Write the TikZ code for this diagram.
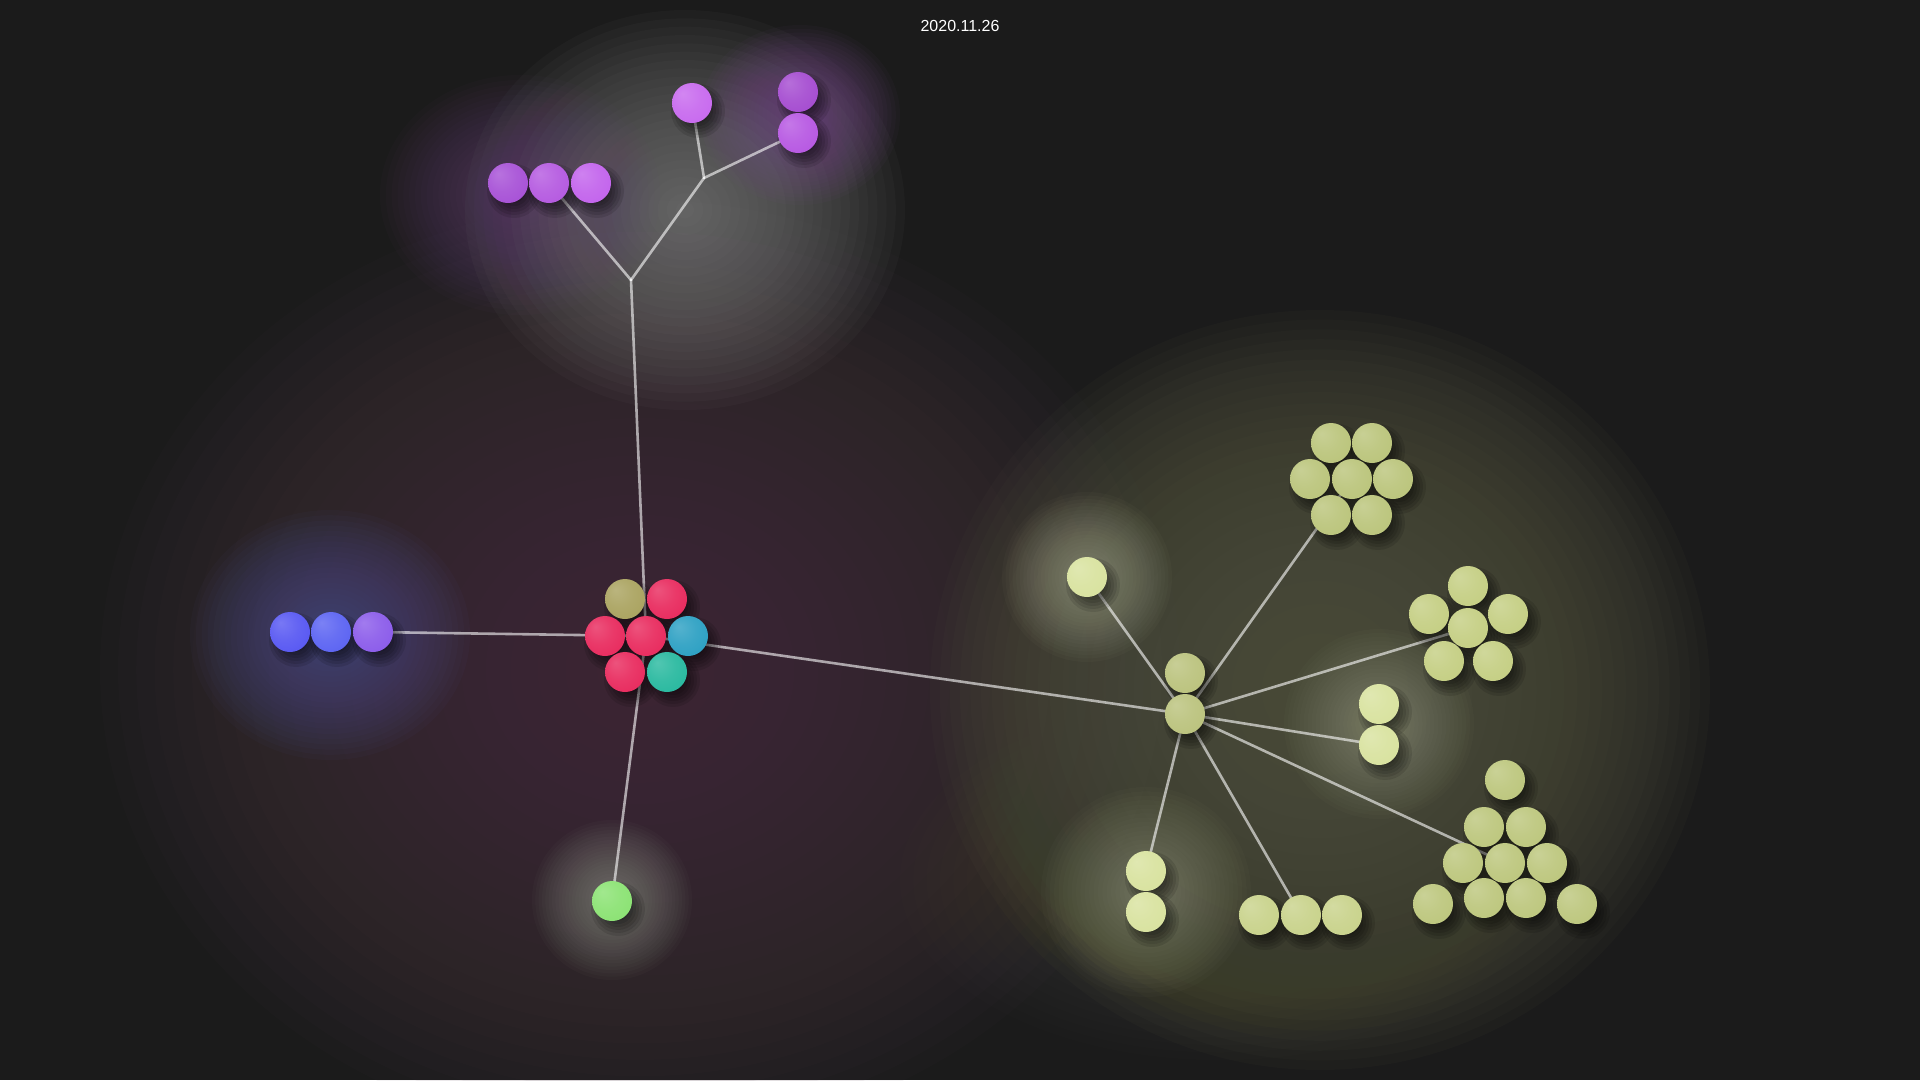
\documentclass[tikz,border=0pt]{standalone}
\usepackage{fontspec}
\setmainfont{Liberation Sans}
\pgfdeclarelayer{glowlayer}
\pgfdeclarelayer{edgelayer}
\pgfdeclarelayer{shadowlayer}
\pgfsetlayers{glowlayer,edgelayer,shadowlayer,main}

\colorlet{orbcol}{red}
\pgfdeclareradialshading[orbcol]{orbshade}{\pgfpoint{-12bp}{12bp}}{color(0bp)=(orbcol!80!white); color(18bp)=(orbcol!92!white); color(36bp)=(orbcol); color(46bp)=(orbcol!95!black); color(50bp)=(orbcol!88!black)}

\definecolor{bgc}{HTML}{1B1B1B}
\definecolor{pA}{HTML}{A64FD6}
\definecolor{pB}{HTML}{B458E0}
\definecolor{pC}{HTML}{C262EC}
\definecolor{pD}{HTML}{C768EE}
\definecolor{pE}{HTML}{A44AD0}
\definecolor{pF}{HTML}{B656E2}
\definecolor{oliveC}{HTML}{A9A25E}
\definecolor{redC}{HTML}{E8285C}
\definecolor{cyanC}{HTML}{2A9FC2}
\definecolor{tealC}{HTML}{26B89E}
\definecolor{bA}{HTML}{5656F2}
\definecolor{bB}{HTML}{5A62F2}
\definecolor{bC}{HTML}{8A5AEA}
\definecolor{greenC}{HTML}{8AE272}
\definecolor{hexC}{HTML}{BAC47A}
\definecolor{flowC}{HTML}{C4CE82}
\definecolor{triC}{HTML}{BCC67C}
\definecolor{hubC}{HTML}{BAC27C}
\definecolor{liteC}{HTML}{D8E29E}
\definecolor{rowC}{HTML}{C8D28A}
% glow colours
\definecolor{gMauve}{HTML}{4C3442}
\definecolor{gOlive}{HTML}{585A44}
\definecolor{gGray}{HTML}{8C8C8C}
\definecolor{gPurpleL}{HTML}{6E4A80}
\definecolor{gPurpleR}{HTML}{7A4E8E}
\definecolor{gBlue}{HTML}{4C4C88}
\definecolor{gGreen}{HTML}{A0A698}
\definecolor{gLite}{HTML}{B4B89C}

\tikzset{
  bubble/.style={circle, inner sep=0pt, minimum size=40pt,
    /utils/exec={\colorlet{orbcol}{#1}}, shade, shading=orbshade},
  link/.style={draw=white, draw opacity=0.6, line width=2.6pt, line cap=round},
}
% soft glow built from nested ellipses: x, y, rx, ry, colour, opacity per ring, exponent
\newcommand\glowat[7]{%
  \foreach \k in {1,...,24}{%
    \pgfmathsetmacro\fr{(\k/24)^#7}%
    \fill[#5, opacity=#6] (#1,#2) circle [x radius={#3*\fr}, y radius={#4*\fr}];
  }}
\newcommand\orb[4]{%
  \node[bubble=#4] (#1) at (#2,#3) {};
  \begin{pgfonlayer}{shadowlayer}
    \foreach \s in {12,15,18,21,24,27}{%
      \fill[black, opacity=0.11] ([shift={(6,8)}]#1.center) circle (\s pt);}
  \end{pgfonlayer}}

\begin{document}
\begin{tikzpicture}[x=1pt,y=-1pt]
\useasboundingbox (0,0) rectangle (1920,1080);
\begin{pgfonlayer}{glowlayer}
  \fill[bgc] (0,0) rectangle (1920,1080);
  % large tinted areas
  \glowat{640}{670}{540}{470}{gMauve}{0.058}{0.8}
  \glowat{1320}{690}{390}{380}{gOlive}{0.068}{0.6}
  \glowat{1220}{880}{320}{180}{gOlive}{0.03}{1}
  % purple tree glow
  \glowat{685}{210}{220}{200}{gGray}{0.048}{1}
  \glowat{520}{195}{140}{120}{gPurpleL}{0.04}{1}
  \glowat{800}{115}{100}{90}{gPurpleR}{0.05}{1}
  % blue glow
  \glowat{330}{635}{140}{125}{gBlue}{0.06}{1}
  % green glow
  \glowat{612}{900}{80}{80}{gGreen}{0.035}{1}
  % light olive glows
  \glowat{1087}{577}{85}{85}{gLite}{0.035}{1}
  \glowat{1379}{724}{95}{95}{gLite}{0.028}{1}
  \glowat{1146}{892}{105}{105}{gLite}{0.028}{1}
\end{pgfonlayer}

\node[text=white, font=\fontsize{16pt}{19pt}\selectfont] (date) at (960,26) {2020.11.26};

% purple tree
\orb{p1}{508}{183}{pA}
\orb{p2}{549}{183}{pB}
\orb{p3}{591}{183}{pC}
\orb{p4}{692}{103}{pD}
\orb{p5}{798}{92}{pE}
\orb{p6}{798}{133}{pF}
\coordinate (j1) at (631,280);
\coordinate (j2) at (704,178);

% center cluster
\orb{c1}{625}{599}{oliveC}
\orb{c2}{667}{599}{redC}
\orb{c3}{605}{636}{redC}
\orb{c4}{646}{636}{redC}
\orb{c5}{688}{636}{cyanC}
\orb{c6}{625}{672}{redC}
\orb{c7}{667}{672}{tealC}

% blue
\orb{b1}{290}{632}{bA}
\orb{b2}{331}{632}{bB}
\orb{b3}{373}{632}{bC}
% green
\orb{g1}{612}{901}{greenC}

% olive hub
\orb{h1}{1185}{673}{hubC}
\orb{h0}{1185}{714}{hubC}
\orb{l1}{1087}{577}{liteC}
% hexagon
\orb{x1}{1331}{443}{hexC}
\orb{x2}{1372}{443}{hexC}
\orb{x3}{1310}{479}{hexC}
\orb{x4}{1352}{479}{hexC}
\orb{x5}{1393}{479}{hexC}
\orb{x6}{1331}{515}{hexC}
\orb{x7}{1372}{515}{hexC}
% flower
\orb{f1}{1468}{586}{flowC}
\orb{f2}{1429}{614}{flowC}
\orb{f3}{1468}{628}{flowC}
\orb{f4}{1508}{614}{flowC}
\orb{f5}{1444}{661}{flowC}
\orb{f6}{1493}{661}{flowC}
% right pair
\orb{r1}{1379}{704}{liteC}
\orb{r2}{1379}{745}{liteC}
% triangle
\orb{t1}{1505}{780}{triC}
\orb{t2}{1484}{827}{triC}
\orb{t3}{1526}{827}{triC}
\orb{t4}{1463}{863}{triC}
\orb{t5}{1505}{863}{triC}
\orb{t6}{1547}{863}{triC}
\orb{t7}{1433}{904}{triC}
\orb{t8}{1484}{898}{triC}
\orb{t9}{1526}{898}{triC}
\orb{t10}{1577}{904}{triC}
% bottom pair and row
\orb{v1}{1146}{871}{liteC}
\orb{v2}{1146}{912}{liteC}
\orb{w1}{1259}{915}{rowC}
\orb{w2}{1301}{915}{rowC}
\orb{w3}{1342}{915}{rowC}

\begin{pgfonlayer}{edgelayer}
  \draw[link] (j1) -- (c4.center);
  \draw[link] (j1) -- (p2.center);
  \draw[link] (j1) -- (j2);
  \draw[link] (j2) -- (p4.center);
  \draw[link] (j2) -- (p6.center);
  \draw[link] (b3.center) -- (c4.center);
  \draw[link] (c4.center) -- (h0.center);
  \draw[link] (c4.center) -- (g1.center);
  \draw[link] (h0.center) -- (l1.center);
  \draw[link] (h0.center) -- (x4.center);
  \draw[link] (h0.center) -- (f3.center);
  \draw[link] (h0.center) -- (r2.center);
  \draw[link] (h0.center) -- (t5.center);
  \draw[link] (h0.center) -- (w2.center);
  \draw[link] (h0.center) -- (v1.center);
\end{pgfonlayer}
\end{tikzpicture}
\end{document}
